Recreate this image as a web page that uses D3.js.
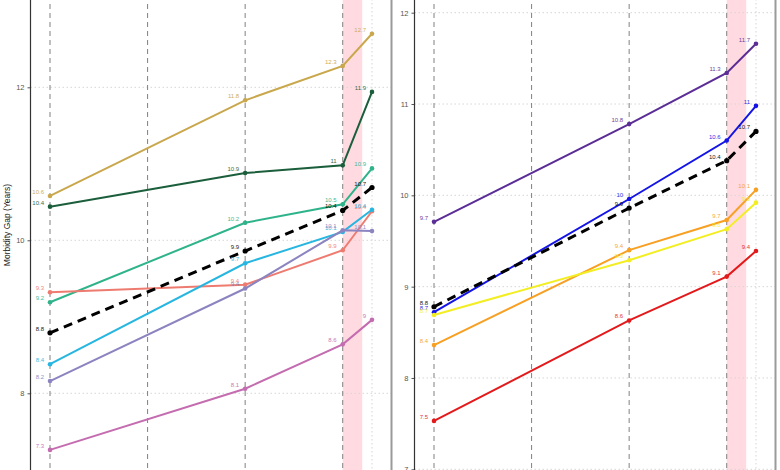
<!DOCTYPE html>
<html>
<head>
<meta charset="utf-8">
<script src="https://cdn.jsdelivr.net/npm/d3@7"></script>
<style>
body{margin:0;background:#fff;}
svg{display:block;font-family:"Liberation Sans",Arial,sans-serif;}
</style>
</head>
<body>
<div id="chart"></div>
<script>
// years with a value, reference lines and the shaded period
const years = [1990, 2010, 2020, 2023];
const refYears = [1990, 2000, 2010, 2020];
const bandYears = [2020, 2022];

// left panel
const leftTicks = [8, 10, 12];
const leftColors = ["#c9a74c", "#1b5e3b", "#2fb38b", "#ee7b70", "#27b6e0", "#8b84c0", "#c46cb0"];
const leftGold = [10.58, 11.83, 12.28, 12.70];
const leftGreen = [10.44, 10.88, 10.98, 11.94];
const leftTeal = [9.19, 10.23, 10.47, 10.94];
const leftSalmon = [9.32, 9.42, 9.87, 10.38];
const leftSky = [8.38, 9.70, 10.11, 10.40];
const leftLavender = [8.16, 9.37, 10.13, 10.12];
const leftMagenta = [7.26, 8.06, 8.64, 8.96];
const leftMean = [8.79, 9.86, 10.39, 10.69];

// right panel
const rightTicks = [7, 8, 9, 10, 11, 12];
const rightColors = ["#5b2d96", "#1414e6", "#f7a024", "#f3ee24", "#e31a1c"];
const rightPurple = [9.71, 10.78, 11.34, 11.66];
const rightBlue = [8.72, 9.96, 10.60, 10.98];
const rightOrange = [8.36, 9.40, 9.73, 10.06];
const rightYellow = [8.69, 9.29, 9.63, 9.92];
const rightRed = [7.53, 8.63, 9.11, 9.39];
const rightMean = [8.78, 9.86, 10.38, 10.70];

const svg = d3.select("#chart").append("svg")
    .attr("width", 780)
    .attr("height", 470);

function fmt(v){
    return String(Math.round(v*10)/10);
}

function drawPanel(cfg){
    let g = svg.append("g");
    let x = d3.scaleLinear().domain([1988, 2025]).range([cfg.left, cfg.right]);
    let y = d3.scaleLinear().domain(cfg.yDomain).range(cfg.yRange);
    let top = -5, bottom = 480;

    // shaded period
    g.append("rect")
        .attr("x", x(bandYears[0]))
        .attr("width", x(bandYears[1]) - x(bandYears[0]))
        .attr("y", top)
        .attr("height", bottom - top)
        .attr("fill", "#ffdbe1");

    // dotted grid
    g.selectAll(".hgrid").data(cfg.ticks).enter().append("line")
        .attr("x1", cfg.left).attr("x2", cfg.right)
        .attr("y1", d => y(d)).attr("y2", d => y(d))
        .attr("stroke", "#d6d6d6").attr("stroke-width", 1)
        .attr("stroke-dasharray", "1.5,2.5");
    g.append("line")
        .attr("x1", x(years[3])).attr("x2", x(years[3]))
        .attr("y1", top).attr("y2", bottom)
        .attr("stroke", "#d6d6d6").attr("stroke-width", 1)
        .attr("stroke-dasharray", "1.5,2.5");

    // reference year lines
    g.selectAll(".vref").data(refYears).enter().append("line")
        .attr("x1", d => x(d)).attr("x2", d => x(d))
        .attr("y1", top).attr("y2", bottom)
        .attr("stroke", "#808080").attr("stroke-width", 1)
        .attr("stroke-dasharray", "5,4");

    let line = d3.line()
        .x((d, i) => x(years[i]))
        .y(d => y(d));

    let series = cfg.series.map((vals, i) => ({vals: vals, color: cfg.colors[i], dash: null}));
    series.push({vals: cfg.mean, color: "#000", dash: "9,6"});

    for (let s of series){
        g.append("path")
            .datum(s.vals)
            .attr("d", line)
            .attr("fill", "none")
            .attr("stroke", s.color)
            .attr("stroke-width", s.dash ? 3 : 2)
            .attr("stroke-dasharray", s.dash);
        g.selectAll(null).data(s.vals).enter().append("circle")
            .attr("cx", (d, i) => x(years[i]))
            .attr("cy", d => y(d))
            .attr("r", s.dash ? 2.6 : 2.3)
            .attr("fill", s.color);
    }
    // value labels, up and left of each point
    for (let s of series){
        g.selectAll(null).data(s.vals).enter().append("text")
            .attr("x", (d, i) => x(years[i]) - 6)
            .attr("y", d => y(d) - 2)
            .attr("text-anchor", "end")
            .attr("font-size", "6px")
            .attr("fill", s.color)
            .attr("opacity", 0.9)
            .text(d => fmt(d));
    }

    // right border of the panel
    g.append("line")
        .attr("x1", cfg.right).attr("x2", cfg.right)
        .attr("y1", top).attr("y2", bottom)
        .attr("stroke", "#9a9a9a").attr("stroke-width", 2);

    let axis = g.append("g")
        .attr("transform", "translate(" + cfg.left + ",0)")
        .call(d3.axisLeft(y).tickValues(cfg.ticks).tickSize(3).tickPadding(3).tickFormat(d3.format("d")));
    axis.select(".domain").remove();
    axis.append("line")
        .attr("y1", top).attr("y2", bottom)
        .attr("stroke", "#333").attr("stroke-width", 1.2);
    axis.selectAll(".tick line").attr("stroke", "#555");
    axis.selectAll(".tick text")
        .attr("fill", "#555")
        .attr("font-size", "7.5px")
        .attr("font-family", "Liberation Sans, Arial, sans-serif");
}

drawPanel({
    left: 30.5, right: 391.5,
    yDomain: [8, 12], yRange: [393.3, 87.3],
    ticks: leftTicks,
    colors: leftColors,
    series: [leftGold, leftGreen, leftTeal, leftSalmon, leftSky, leftLavender, leftMagenta],
    mean: leftMean
});

drawPanel({
    left: 414.5, right: 775.5,
    yDomain: [7, 12], yRange: [469.3, 12.7],
    ticks: rightTicks,
    colors: rightColors,
    series: [rightPurple, rightBlue, rightOrange, rightYellow, rightRed],
    mean: rightMean
});

svg.append("text")
    .attr("transform", "translate(10,225) rotate(-90)")
    .attr("text-anchor", "middle")
    .attr("font-size", "8.5px")
    .attr("fill", "#222")
    .text("Morbidity Gap (Years)");
</script>
</body>
</html>
